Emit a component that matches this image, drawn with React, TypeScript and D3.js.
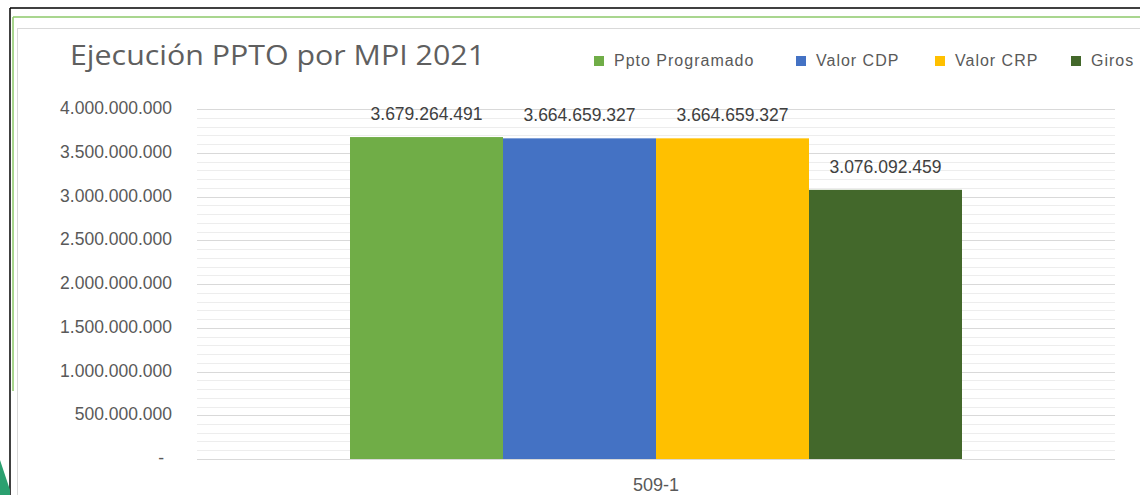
import React from "react";
import * as d3 from "d3";

const categories = ["509-1"];
const seriesNames = ["Ppto Programado", "Valor CDP", "Valor CRP", "Giros"];
const seriesValues = [3679264491, 3664659327, 3664659327, 3076092459];
const seriesColors = ["#70AD47", "#4472C4", "#FFC000", "#43682B"];
const yTicks = [0, 500000000, 1000000000, 1500000000, 2000000000, 2500000000, 3000000000, 3500000000, 4000000000];
const title = "Ejecución PPTO por MPI 2021";

const locale = d3.formatLocale({ decimal: ",", thousands: ".", grouping: [3], currency: ["$", ""] });
const fmt = locale.format(",d");

export default function App() {
  const W = 1140, H = 495;
  const plotL = 197, plotR = 1115, plotT = 109, plotB = 459;
  const y = d3.scaleLinear().domain([0, 4000000000]).range([plotB, plotT]);
  const x0 = d3.scaleBand<string>().domain(categories).range([plotL, plotR]).paddingInner(1 / 3).paddingOuter(1 / 6);
  const x1 = d3.scaleBand<string>().domain(seriesNames).range([0, x0.bandwidth()]).padding(0);
  const minor = d3.range(0, 4000000001, 100000000).filter((v) => v % 500000000 !== 0);
  const font = "'Liberation Sans', Arial, sans-serif";
  const textColor = "#595959";
  const legendX = [594, 796, 935, 1071];

  return (
    <div style={{ position: "absolute", left: 0, top: 0 }}>
      <svg width={W} height={H} style={{ display: "block", background: "#fff" }}>
        {/* frame decorations */}
        <line x1={10} y1={8} x2={W} y2={8} stroke="#000" strokeWidth={1.5} />
        <line x1={10} y1={8} x2={10} y2={H} stroke="#000" strokeWidth={1.5} />
        <line x1={13} y1={17} x2={W} y2={17} stroke="#8CC86A" strokeWidth={1.5} />
        <line x1={13} y1={17} x2={13} y2={391} stroke="#8CC86A" strokeWidth={1.5} />
        <polygon points={`0,460 10,490 10,${H} 0,${H}`} fill="#2BA070" />
        <rect x={17.5} y={28.5} width={W} height={H} fill="#fff" stroke="#D9D9D9" strokeWidth={1} />

        {/* title */}
        <text x={70} y={65} fontFamily="'Open Sans', sans-serif" fontSize={28} fill="#5F5F5F" textLength={415} lengthAdjust="spacingAndGlyphs">
          {title}
        </text>

        {/* legend */}
        {seriesNames.map((s, i) => (
          <g key={s}>
            <rect x={legendX[i]} y={56} width={10} height={10} fill={seriesColors[i]} />
            <text x={legendX[i] + 20} y={66} fontFamily={font} fontSize={16} fill={textColor} letterSpacing={1}>
              {s}
            </text>
          </g>
        ))}

        {/* gridlines */}
        {minor.map((v) => (
          <line key={"m" + v} x1={plotL} x2={plotR} y1={Math.round(y(v)) + 0.5} y2={Math.round(y(v)) + 0.5} stroke="#EDEDED" strokeWidth={1} />
        ))}
        {yTicks.map((v) => (
          <line key={"g" + v} x1={plotL} x2={plotR} y1={Math.round(y(v)) + 0.5} y2={Math.round(y(v)) + 0.5} stroke="#D9D9D9" strokeWidth={1.2} />
        ))}

        {/* y tick labels */}
        {yTicks.map((v) => (
          <text key={"t" + v} x={v === 0 ? 164 : 172} y={y(v) + 5} textAnchor="end" fontFamily={font} fontSize={17.5} fill={textColor}>
            {v === 0 ? "-" : fmt(v)}
          </text>
        ))}

        {/* bars */}
        {categories.map((c) => (
          <g key={c} transform={`translate(${x0(c)},0)`}>
            {seriesNames.map((s, i) => (
              <g key={s}>
                <rect x={x1(s)} y={y(seriesValues[i])} width={x1.bandwidth()} height={plotB - y(seriesValues[i])} fill={seriesColors[i]} />
                <text x={(x1(s) as number) + x1.bandwidth() / 2} y={y(seriesValues[i]) - 17} textAnchor="middle" fontFamily={font} fontSize={17.5} fill="#404040">
                  {fmt(seriesValues[i])}
                </text>
              </g>
            ))}
            <text x={x0.bandwidth() / 2} y={491} textAnchor="middle" fontFamily={font} fontSize={18} fill={textColor}>
              {c}
            </text>
          </g>
        ))}
      </svg>
    </div>
  );
}
